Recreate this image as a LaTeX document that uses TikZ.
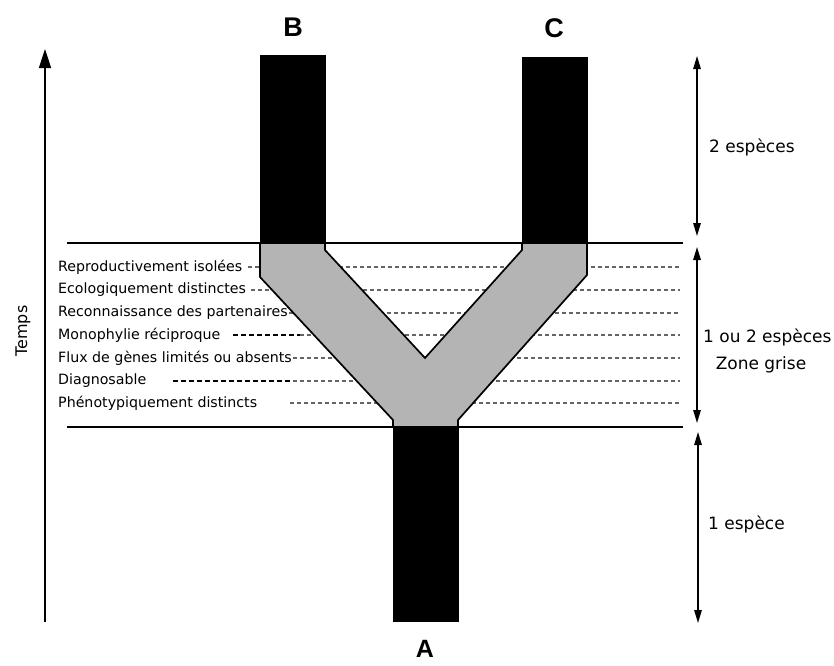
\documentclass[tikz,border=0pt]{standalone}
\usepackage{fontspec}
\setmainfont{DejaVu Sans}
\newfontfamily\hfont{Liberation Sans}
\usetikzlibrary{arrows.meta}
\definecolor{greyfill}{RGB}{180,180,180}
\definecolor{dashgrey}{RGB}{100,100,100}
\begin{document}
\begin{tikzpicture}[x=1pt,y=-1pt,
  lab/.style={font=\fontsize{14.2}{16}\selectfont, anchor=west, inner sep=0pt},
  side/.style={font=\fontsize{17}{20}\selectfont, inner sep=0pt},
  letter/.style={font=\hfont\bfseries\fontsize{27}{30}\selectfont, inner sep=0pt},
  thindash/.style={dashgrey, line width=1.1pt, dash pattern=on 4pt off 3pt},
  bolddash/.style={black, line width=1.9pt, dash pattern=on 5pt off 3pt},
  bar/.style={fill=black, draw=black, line width=1pt},
  sep/.style={line width=2.8pt},
  dim/.style={line width=1.4pt, {Triangle[length=13pt,width=7.5pt]}-{Triangle[length=13pt,width=7.5pt]}},
  axis/.style={line width=1.6pt, -{Triangle[length=19pt,width=12pt]}}
]
\useasboundingbox (0,0) rectangle (834,665);

% left labels
\node[lab] (l1) at (58,267) {Reproductivement isolées};
\node[lab] (l2) at (58,290) {Ecologiquement distinctes};
\node[lab] (l3) at (58,313) {Reconnaissance des partenaires};
\node[lab] (l4) at (58,335) {Monophylie réciproque};
\node[lab] (l5) at (58,358) {Flux de gènes limités ou absents};
\node[lab] (l6) at (58,381) {Diagnosable};
\node[lab] (l7) at (58,403) {Phénotypiquement distincts};

% dashed line end points
\coordinate (r1) at (680,267);
\coordinate (r2) at (680,290);
\coordinate (r3) at (680,313);
\coordinate (r4) at (680,335);
\coordinate (r5) at (680,358);
\coordinate (r6) at (680,381);
\coordinate (r7) at (680,403);
\coordinate (b4s) at (233,335);
\coordinate (b4e) at (300,335);
\coordinate (b6s) at (173,381);
\coordinate (b6e) at (293,381);
\coordinate (t7s) at (290,403);

\draw[thindash] ([xshift=5pt]l1.east) -- (r1);
\draw[thindash] ([xshift=5pt]l2.east) -- (r2);
\draw[thindash] ([xshift=1pt]l3.east) -- (r3);
\draw[bolddash] (b4s) -- (b4e);
\draw[thindash] (b4e) -- (r4);
\draw[thindash] ([xshift=1pt]l5.east) -- (r5);
\draw[bolddash] (b6s) -- (b6e);
\draw[thindash] (b6e) -- (r6);
\draw[thindash] (t7s) -- (r7);

% grey zone (Y shape)
\draw[fill=greyfill, line width=1.7pt, line join=miter]
  (260,243) -- (325,243) -- (325,250) -- (425,358) -- (522,250) -- (522,243)
  -- (587,243) -- (587,275) -- (458,420) -- (458,427) -- (393,427) -- (393,420)
  -- (260,277) -- cycle;

% black bars
\draw[bar] (260,55) rectangle (325,243);
\draw[bar] (522,57) rectangle (587,243);
\draw[bar] (393,427) rectangle (458,621);

% separating lines
\coordinate (h1l) at (67,243);
\coordinate (h1r) at (683,243);
\coordinate (h2l) at (67,427);
\coordinate (h2r) at (683,427);
\draw[sep] (h1l) -- (h1r);
\draw[sep] (h2l) -- (h2r);

% species letters
\node[letter] (B) at (293,27) {B};
\node[letter] (C) at (554,28) {C};
\node[letter, font=\hfont\bfseries\fontsize{25}{28}\selectfont] (A) at (425,649) {A};

% time axis
\coordinate (t0) at (45,622);
\coordinate (t1) at (45,49);
\draw[axis] (t0) -- (t1);
\node[rotate=90, font=\fontsize{16}{18}\selectfont, inner sep=0pt] (temps) at (23,331) {Temps};

% right dimension arrows
\coordinate (d1a) at (697,56);
\coordinate (d1b) at (697,236);
\coordinate (d2a) at (697,247);
\coordinate (d2b) at (697,423);
\coordinate (d3a) at (698,432);
\coordinate (d3b) at (698,623);
\draw[dim] (d1a) -- (d1b);
\draw[dim] (d2a) -- (d2b);
\draw[dim] (d3a) -- (d3b);

\node[side, anchor=west] (s2) at (709,147) {2 espèces};
\node[side, anchor=west] (s12) at (703,337) {1 ou 2 espèces};
\node[side] (zg) at (761,365) {Zone grise};
\node[side, anchor=west] (s1) at (708,524) {1 espèce};
\end{tikzpicture}
\end{document}
